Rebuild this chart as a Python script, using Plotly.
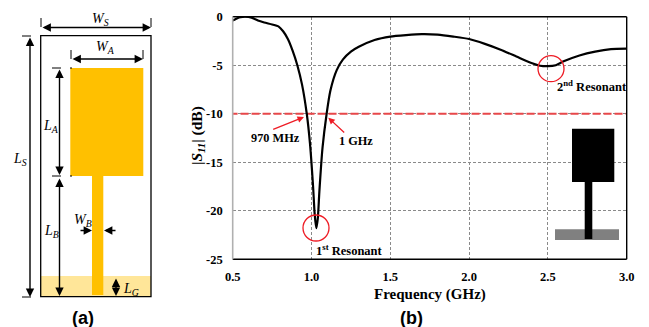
import plotly.graph_objects as go

freq_ghz = [0.5, 0.53, 0.55, 0.58, 0.62, 0.66, 0.7, 0.75, 0.79, 0.82, 0.85, 0.88, 0.91, 0.94, 0.97, 0.99, 1.01, 1.02,
            1.03, 1.04, 1.05, 1.07, 1.096, 1.12, 1.16, 1.2, 1.25, 1.3, 1.4, 1.5, 1.6, 1.7, 1.8, 1.9, 2.0, 2.1, 2.2,
            2.3, 2.4, 2.45, 2.5, 2.55, 2.6, 2.7, 2.8, 2.9, 3.0]
s11_db = [-0.4, -0.15, -0.05, 0.0, -0.1, -0.4, -0.6, -0.8, -1.0, -1.5, -2.3, -3.5, -5.0, -7.0, -10.0, -13.0, -17.5, -20.3,
          -21.8, -20.8, -18.0, -13.5, -10.0, -7.6, -5.5, -4.4, -3.6, -3.1, -2.4, -2.05, -1.9, -1.8, -1.85, -2.05, -2.3, -2.8, -3.4,
          -4.1, -4.8, -5.05, -5.1, -5.0, -4.6, -4.0, -3.6, -3.35, -3.3]
x_ticks = [0.5, 1.0, 1.5, 2.0, 2.5, 3.0]
x_labels = ["0.5", "1.0", "1.5", "2.0", "2.5", "3.0"]
y_ticks = [0, -5, -10, -15, -20, -25]
y_labels = ["0", "-5", "-10", "-15", "-20", "-25"]
threshold_db = [-10, -10]
threshold_f = [0.48, 3.02]

W, H = 649, 327
SERIF = "Liberation Serif"
SANS = "Liberation Sans"
RED = "#EE1C25"


def px(x):
    return x / W


def py(y):
    return 1 - y / H


shapes = []
annotations = []


def rect(x0, y0, x1, y1, fill, line=None, lw=0, layer="above"):
    shapes.append(dict(type="rect", xref="paper", yref="paper", x0=px(x0), x1=px(x1), y0=py(y0), y1=py(y1),
                       fillcolor=fill, line=dict(color=line or fill, width=lw), layer=layer))


def seg(x0, y0, x1, y1, color="black", lw=1.3, dash="solid"):
    shapes.append(dict(type="line", xref="paper", yref="paper", x0=px(x0), x1=px(x1), y0=py(y0), y1=py(y1),
                       line=dict(color=color, width=lw, dash=dash), layer="above"))


def circle(cx, cy, r):
    shapes.append(dict(type="circle", xref="paper", yref="paper", x0=px(cx - r), x1=px(cx + r), y0=py(cy + r), y1=py(cy - r),
                       line=dict(color=RED, width=1.3), layer="above"))


def arrow(x0, y0, x1, y1, color="black", both=False, lw=1.4, size=1.0):
    a = dict(xref="paper", yref="paper", axref="pixel", ayref="pixel", x=px(x1), y=py(y1), ax=x0 - x1, ay=y0 - y1,
             text="", showarrow=True, arrowhead=2, arrowsize=size, arrowwidth=lw, arrowcolor=color, standoff=0)
    if both:
        a.update(arrowside="end+start", startarrowhead=2, startarrowsize=size, startstandoff=0)
    annotations.append(a)


def text(x, y, s, size=11, family=SERIF, color="black", bold=False, angle=0):
    annotations.append(dict(xref="paper", yref="paper", x=px(x), y=py(y), text=s, showarrow=False, textangle=angle,
                            xanchor="center", yanchor="middle",
                            font=dict(family=family, size=size, color=color, weight=700 if bold else 400)))


# ---- schematic (a)
rect(40.7, 276, 151, 296.7, "#FFE699")
rect(70.3, 68, 143.3, 176, "#FFC000")
rect(92, 176, 103.3, 295, "#FFC000")
rect(40.7, 35.7, 151, 296.7, "rgba(0,0,0,0)", "black", 1.3)
arrow(41, 27.5, 151, 27.5, both=True, size=1.2)
arrow(71, 59, 143, 59, both=True, size=1.2)
arrow(30, 36, 30, 297, both=True, size=1.2)
arrow(59.5, 68, 59.5, 175, both=True, size=1.2)
arrow(59.5, 177, 59.5, 296, both=True, size=1.2)
arrow(79, 230.5, 92, 230.5, size=1.2)
arrow(117, 230.5, 104, 230.5, size=1.2)
arrow(116, 277, 116, 296, both=True, size=1.2)
for a, b, c, d in [(41, 18, 41, 33), (151, 18, 151, 33), (71, 50, 71, 65), (143, 50, 143, 65),
                   (22, 36, 40, 36), (22, 297, 40, 297), (52, 68, 72, 68), (52, 176, 72, 176)]:
    seg(a, b, c, d, lw=1, dash="dash")
text(100, 19, "<i>W<sub>S</sub></i>", 14)
text(105, 47, "<i>W<sub>A</sub></i>", 14)
text(51, 126, "<i>L<sub>A</sub></i>", 14)
text(51, 231, "<i>L<sub>B</sub></i>", 14)
text(20, 159, "<i>L<sub>S</sub></i>", 14)
text(83, 220, "<i>W<sub>B</sub></i>", 14)
text(131, 289, "<i>L<sub>G</sub></i>", 14)
text(83, 318, "(a)", 18, SANS, bold=True)
text(412, 318, "(b)", 18, SANS, bold=True)

# ---- frame of (b)
seg(232.7, 16.7, 626.7, 16.7, lw=1.4)
seg(626.7, 16.7, 626.7, 259.3, lw=1.4)
seg(232.7, 259.3, 626.7, 259.3, lw=1.4)
seg(232.7, 16.7, 232.7, 259.3, color="#B0B0B0", lw=1.6)

# ---- inset
rect(555, 229.3, 619, 240, "#808080")
rect(572, 128.7, 614.3, 182, "black")
rect(584.7, 182, 592.3, 239, "black")

# ---- callouts
circle(316, 228, 13)
circle(551, 68.7, 13)
arrow(271.7, 130, 304, 117, color=RED, lw=1.3)
arrow(345.7, 134, 328.3, 117.7, color=RED, lw=1.3)
text(275.7, 138, "970 MHz", 12.3, bold=True)
text(355.7, 141, "1 GHz", 12.3, bold=True)
text(349, 250, "1<sup>st</sup> Resonant", 12.5, bold=True)
text(591.7, 85.5, "2<sup>nd</sup> Resonant", 12.5, bold=True)
text(430, 294, "Frequency (GHz)", 15, bold=True)
text(197, 136, "|<i>S<sub>11</sub></i>| (dB)", 15.5, bold=True, angle=-90)

fig = go.Figure()
fig.add_trace(go.Scatter(x=threshold_f, y=threshold_db, mode="lines", cliponaxis=False,
                         line=dict(color="#E8474A", width=1.8, dash="8px,3px"), hoverinfo="skip"))
fig.add_trace(go.Scatter(x=freq_ghz, y=s11_db, mode="lines", cliponaxis=True,
                         line=dict(color="black", width=2.2, shape="spline", smoothing=0.6)))
fig.update_layout(
    width=W, height=H, autosize=False, showlegend=False, paper_bgcolor="white", plot_bgcolor="white",
    margin=dict(l=0, r=0, t=0, b=0, autoexpand=False), shapes=shapes, annotations=annotations,
    xaxis=dict(domain=[px(232.7), px(626.7)], range=[0.5, 3.0], tickvals=x_ticks, ticktext=x_labels, ticks="",
               automargin=False, showline=False, zeroline=False, showgrid=True, gridcolor="#8a8a8a",
               griddash="3px,2px", gridwidth=1,
               tickfont=dict(family=SERIF, size=12.5, color="black", weight=700), ticklabelstandoff=8),
    yaxis=dict(domain=[py(259.3), py(16.7)], range=[-25, 0], tickvals=y_ticks, ticktext=y_labels, ticks="",
               automargin=False, showline=False, zeroline=False, showgrid=True, gridcolor="#8a8a8a",
               griddash="3px,2px", gridwidth=1,
               tickfont=dict(family=SERIF, size=12.5, color="black", weight=700), ticklabelstandoff=9),
)
fig.write_html("out.html", config={"displayModeBar": False}, post_script="document.body.style.margin='0';")
